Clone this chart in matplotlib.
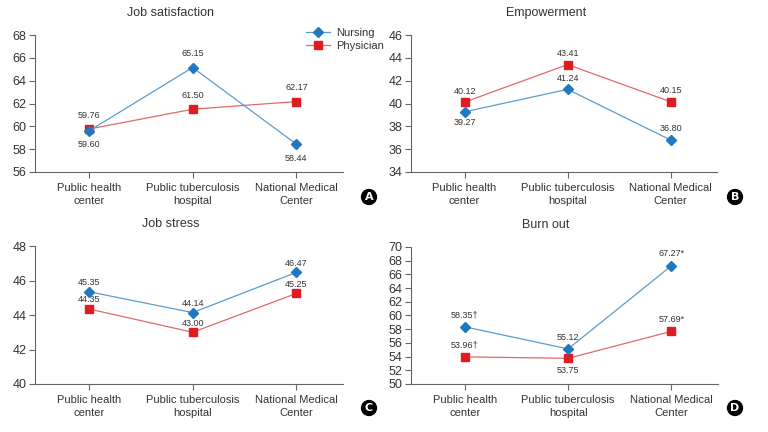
import numpy as np
import matplotlib
matplotlib.use('Agg')
import matplotlib.pyplot as plt

plt.rcParams['font.family'] = ['Liberation Sans', 'DejaVu Sans']

# Data
categories = ['Public health\ncenter', 'Public tuberculosis\nhospital', 'National Medical\nCenter']
titles = ['Job satisfaction', 'Empowerment', 'Job stress', 'Burn out']
panel_letters = ['A', 'B', 'C', 'D']

nursing = [
    [59.60, 65.15, 58.44],
    [39.27, 41.24, 36.80],
    [45.35, 44.14, 46.47],
    [58.35, 55.12, 67.27],
]
physician = [
    [59.76, 61.50, 62.17],
    [40.12, 43.41, 40.15],
    [44.35, 43.00, 45.25],
    [53.96, 53.75, 57.69],
]
nursing_labels = [
    ['59.60', '65.15', '58.44'],
    ['39.27', '41.24', '36.80'],
    ['45.35', '44.14', '46.47'],
    ['58.35\u2020', '55.12', '67.27*'],
]
physician_labels = [
    ['59.76', '61.50', '62.17'],
    ['40.12', '43.41', '40.15'],
    ['44.35', '43.00', '45.25'],
    ['53.96\u2020', '53.75', '57.69*'],
]
# label side: +1 above, -1 below
nursing_side = [[-1, 1, -1], [-1, 1, 1], [1, 1, 1], [1, 1, 1]]
physician_side = [[1, 1, 1], [1, 1, 1], [1, 1, 1], [1, -1, 1]]
label_offset = [10, 8, 6.5, 8.5]

y_ranges = [(56, 68), (34, 46), (40, 48), (50, 70)]

nurse_line = '#5b9bd0'
nurse_mark = '#1f78c0'
phys_line = '#e06a6a'
phys_mark = '#e01b22'
text_col = '#333333'
spine_col = '#666666'

W, H = 768, 432
fig = plt.figure(figsize=(7.68, 4.32), dpi=100)

# axes boxes in pixels: left, right, top, bottom
boxes = [(35, 343, 35, 172), (411, 717, 35, 172),
         (35, 343, 246, 384), (411, 718, 247, 384)]
letter_pos = [(369, 197), (735, 197), (369, 408), (735, 408)]

x = np.arange(len(categories))
axes = []
for i in range(4):
    l, r, t, b = boxes[i]
    ax = fig.add_axes([l / W, 1 - b / H, (r - l) / W, (b - t) / H])
    axes.append(ax)
    ax.plot(x, physician[i], color=phys_line, lw=0.9, marker='s', ms=6,
            mfc=phys_mark, mec=phys_mark, label='Physician', zorder=3)
    ax.plot(x, nursing[i], color=nurse_line, lw=0.9, marker='D', ms=5,
            mfc=nurse_mark, mec=nurse_mark, label='Nursing', zorder=4)
    off = label_offset[i]
    for j in range(3):
        ax.annotate(nursing_labels[i][j], (x[j], nursing[i][j]),
                    xytext=(0, off * nursing_side[i][j]), textcoords='offset points',
                    ha='center', va='center', fontsize=6.5, color=text_col)
        ax.annotate(physician_labels[i][j], (x[j], physician[i][j]),
                    xytext=(0, off * physician_side[i][j]), textcoords='offset points',
                    ha='center', va='center', fontsize=6.5, color=text_col)
    lo, hi = y_ranges[i]
    ax.set_ylim(lo, hi)
    ax.set_yticks(np.arange(lo, hi + 1, 2))
    ax.set_xlim(-0.52, 2.45)
    ax.set_xticks(x)
    ax.set_xticklabels(categories, fontsize=8, color=text_col, linespacing=1.3)
    ax.tick_params(axis='y', labelsize=9, labelcolor=text_col, length=4,
                   width=0.8, color=spine_col, pad=2)
    ax.tick_params(axis='x', length=4, width=0.8, color=spine_col, pad=4)
    for s in ['top', 'right']:
        ax.spines[s].set_visible(False)
    for s in ['left', 'bottom']:
        ax.spines[s].set_color(spine_col)
        ax.spines[s].set_linewidth(0.8)
    ax.set_title(titles[i], fontsize=9, color=text_col, x=0.44, pad=14)

    lx, ly = letter_pos[i]
    fig.text(lx / W, 1 - ly / H, panel_letters[i], ha='center', va='center',
             fontsize=8, fontweight='bold', color='white', family='DejaVu Sans',
             bbox=dict(boxstyle='circle,pad=0.22', fc='black', ec='black'))

handles, labels = axes[0].get_legend_handles_labels()
fig.legend(handles[::-1], labels[::-1], loc='upper left',
           bbox_to_anchor=(296 / W, 1 - 18 / H), frameon=False, fontsize=8,
           handlelength=2.2, handletextpad=0.5, labelspacing=0.3,
           labelcolor=text_col)

fig.savefig('out.png', dpi=100)
